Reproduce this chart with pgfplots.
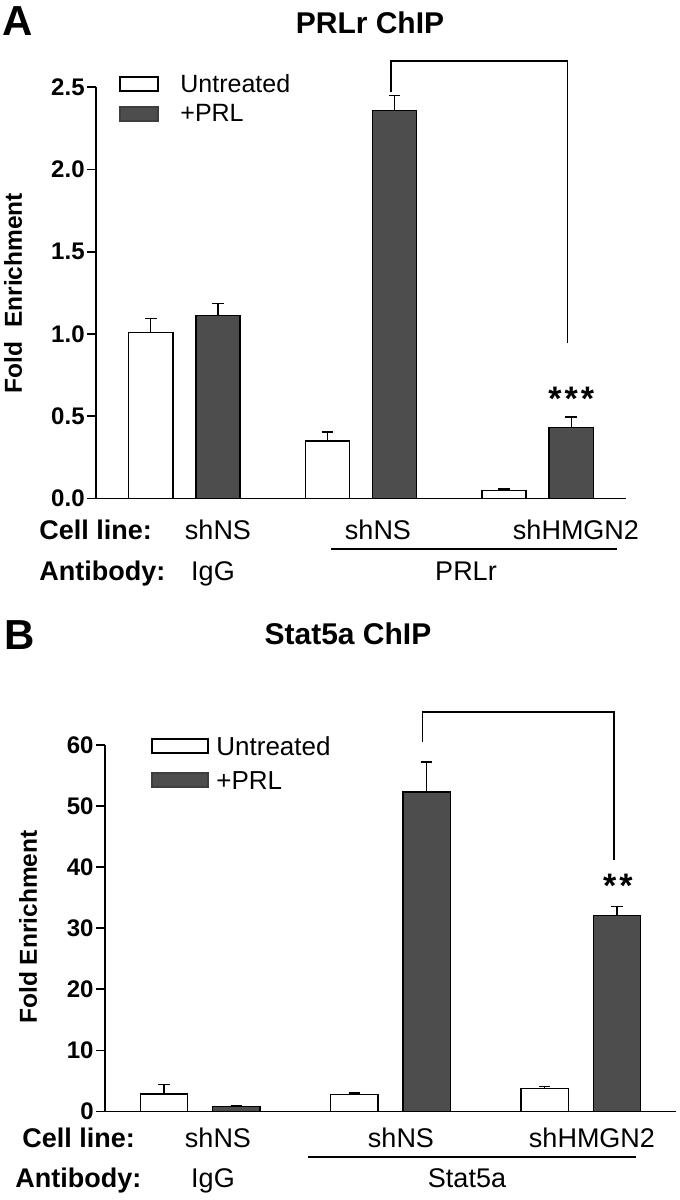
\documentclass[border=0pt]{standalone}
\usepackage{fontspec}
\setmainfont{Liberation Sans}
\usepackage{pgfplots}
\usepackage{pgfplotstable}
\pgfplotsset{compat=1.18}
\definecolor{darkbar}{RGB}{77,77,77}

% Panel A: PRLr ChIP (x = group 1,2,3)
\pgfplotstableread{
x y err
1 1.01 0.085
2 0.35 0.055
3 0.05 0.008
}\AUntreated
\pgfplotstableread{
x y err
1 1.114 0.072
2 2.36 0.09
3 0.43 0.065
}\APRL
% Panel B: Stat5a ChIP
\pgfplotstableread{
x y err
1 2.9 1.48
2 2.75 0.3
3 3.74 0.4
}\BUntreated
\pgfplotstableread{
x y err
1 0.82 0.16
2 52.3 4.9
3 32.05 1.55
}\BPRL

\pgfplotsset{
  chipbar/.style={
    ybar, scale only axis, xmin=0.5, xmax=3.5, ymin=0,
    clip=false, enlargelimits=false,
    axis x line*=bottom, axis y line*=left,
    axis line style={line width=0.9pt, -},
    xtick=\empty,
    tick align=outside, major tick length=4.5pt,
    ytick style={line width=0.9pt, black},
    bar width=0.25,
    /pgf/number format/assume math mode=true,
    yticklabel style={font=\fontsize{12}{14}\selectfont\bfseries, inner sep=1pt},
  },
  untreated/.style={fill=white, draw=black, line width=0.7pt, bar shift=-0.19,
    error bars/.cd, y dir=plus, y explicit,
    error bar style={line width=0.65pt, black},
    error mark options={rotate=90, line width=0.65pt, mark size=2.9pt, black}},
  prl/.style={fill=darkbar, draw=black, line width=0.7pt, bar shift=0.19,
    error bars/.cd, y dir=plus, y explicit,
    error bar style={line width=0.65pt, black},
    error mark options={rotate=90, line width=0.65pt, mark size=2.9pt, black}},
}

\newcommand{\lblb}{\fontsize{13.5}{16}\selectfont\bfseries}
\newcommand{\lbl}{\fontsize{13.5}{16}\selectfont}

\begin{document}
\begin{tikzpicture}
% ---------------- Panel A ----------------
\begin{axis}[chipbar,
  at={(48pt,-249.25pt)}, anchor=south west,
  width=265pt, height=205.6pt, ymax=2.5,
  ytick={0,0.5,1,1.5,2,2.5},
  yticklabel style={/pgf/number format/.cd, fixed, fixed zerofill, precision=1},
]
\addplot[untreated] table[x=x, y=y, y error=err] {\AUntreated};
\addplot[prl] table[x=x, y=y, y error=err] {\APRL};
\draw[line width=0.75pt] (axis cs:2.17,2.47) -- (axis cs:2.17,2.66) -- (axis cs:3.17,2.66) -- (axis cs:3.17,0.945);
\node[font=\fontsize{17}{20}\selectfont\bfseries, inner sep=0] at (axis cs:3.19,0.605) {*\hspace{1.5pt}*\hspace{1.5pt}*};
\end{axis}

% ---------------- Panel B ----------------
\begin{axis}[chipbar,
  at={(52.5pt,-555.75pt)}, anchor=south west,
  width=285.5pt, height=183.25pt, ymax=60,
  ytick={0,10,20,30,40,50,60},
]
\addplot[untreated] table[x=x, y=y, y error=err] {\BUntreated};
\addplot[prl] table[x=x, y=y, y error=err] {\BPRL};
\draw[line width=0.75pt] (axis cs:2.167,60.46) -- (axis cs:2.167,65.4) -- (axis cs:3.174,65.4) -- (axis cs:3.174,41.2);
\node[font=\fontsize{17}{20}\selectfont\bfseries, inner sep=0] at (axis cs:3.195,37.0) {*\hspace{1.5pt}*};
\end{axis}

% ---------------- annotations in pixel units ----------------
\begin{scope}[x=0.5pt, y=-0.5pt]
\path[use as bounding box] (0,0) rectangle (680,1200);
% Panel A
\node[anchor=base west, font=\fontsize{21}{24}\selectfont\bfseries, inner sep=0] at (2,35) {A};
\node[anchor=base, font=\fontsize{15}{18}\selectfont\bfseries, inner sep=0] at (370,33) {PRLr ChIP};
\node[rotate=90, font=\fontsize{12.25}{14}\selectfont\bfseries, inner sep=0] at (13,293) {Fold\ \ Enrichment};
\draw[line width=0.6pt, fill=white] (120,77) rectangle (158,91);
\draw[line width=0.6pt, draw=darkbar!80!black, fill=darkbar] (120,107) rectangle (158,121);
\node[anchor=west, font=\fontsize{12.5}{14}\selectfont, inner sep=0] at (180,84) {Untreated};
\node[anchor=west, font=\fontsize{12.5}{14}\selectfont, inner sep=0] at (180,113) {+PRL};
\node[anchor=base west, font=\lblb, inner sep=0] at (39,539) {Cell line:};
\node[anchor=base, font=\lbl, inner sep=0] at (218,539) {shNS};
\node[anchor=base, font=\lbl, inner sep=0] at (378,539) {shNS};
\node[anchor=base, font=\lbl, inner sep=0] at (576,539) {shHMGN2};
\draw[line width=0.6pt] (331,549) -- (617,549);
\node[anchor=base west, font=\lblb, inner sep=0] at (39,580) {Antibody:};
\node[anchor=base, font=\lbl, inner sep=0] at (213,580) {IgG};
\node[anchor=base, font=\lbl, inner sep=0] at (466,580) {PRLr};
% Panel B
\node[anchor=base west, font=\fontsize{21}{24}\selectfont\bfseries, inner sep=0] at (4,649) {B};
\node[anchor=base, font=\fontsize{15}{18}\selectfont\bfseries, inner sep=0] at (348,644) {Stat5a ChIP};
\node[rotate=90, font=\fontsize{12.25}{14}\selectfont\bfseries, inner sep=0] at (28,927) {Fold Enrichment};
\draw[line width=0.6pt, fill=white] (152,739) rectangle (208,753);
\draw[line width=0.6pt, draw=darkbar!80!black, fill=darkbar] (152,773) rectangle (208,787);
\node[anchor=west, font=\fontsize{13}{15}\selectfont, inner sep=0] at (216,746) {Untreated};
\node[anchor=west, font=\fontsize{13}{15}\selectfont, inner sep=0] at (216,781) {+PRL};
\node[anchor=base west, font=\lblb, inner sep=0] at (22,1147) {Cell line:};
\node[anchor=base, font=\lbl, inner sep=0] at (218,1147) {shNS};
\node[anchor=base, font=\lbl, inner sep=0] at (401,1147) {shNS};
\node[anchor=base, font=\lbl, inner sep=0] at (592,1147) {shHMGN2};
\draw[line width=0.6pt] (308,1157) -- (636,1157);
\node[anchor=base west, font=\lblb, inner sep=0] at (15,1187) {Antibody:};
\node[anchor=base, font=\lbl, inner sep=0] at (213,1187) {IgG};
\node[anchor=base, font=\lbl, inner sep=0] at (467,1187) {Stat5a};
\end{scope}
\end{tikzpicture}
\end{document}
